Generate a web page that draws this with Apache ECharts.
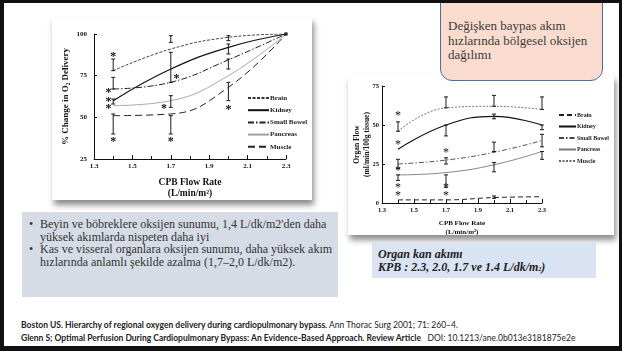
<!DOCTYPE html>
<html>
<head>
<meta charset="utf-8">
<script src="https://cdn.jsdelivr.net/npm/echarts@6.0.0/dist/echarts.min.js"></script>
<style>
  html, body { margin: 0; padding: 0; background: #fff; }
  #slide { position: relative; width: 622px; height: 351px; overflow: hidden; background: #fff; font-family: 'Liberation Serif', serif; }
  .frame { position: absolute; left: 0; top: 0; width: 622px; height: 351px; box-sizing: border-box; border: solid #111; border-width: 3px 3px 5px 4px; z-index: 10; }
  .img { position: absolute; background: #fff; box-shadow: 2px 5px 6px rgba(0,0,0,0.45); }
  #left { left: 52px; top: 17px; width: 260px; height: 183px; }
  #right { left: 348px; top: 75px; width: 266px; height: 160px; }
  .note { position: absolute; left: 440px; top: -12px; width: 161px; height: 91px; border: 1px solid #4a6fa0; border-radius: 12px; background: #fadcce; z-index: 5; }
  .note div { position: absolute; left: 7px; top: 30px; font-size: 13px; line-height: 14.5px; color: #3b3b3b; white-space: nowrap; }
  .box1 { position: absolute; left: 22px; top: 212px; width: 316px; height: 85px; background: #d6dce5; font-size: 12px; line-height: 12.5px; color: #333; }
  .li { position: absolute; left: 18px; white-space: nowrap; }
  .li::before { content: '\2022'; position: absolute; left: -11px; }
  .box2 { position: absolute; left: 372px; top: 243px; width: 224px; height: 35px; background: #dae3f3; font-size: 12px; line-height: 13px; color: #222; font-weight: bold; font-style: italic; }
  .box2 div { position: absolute; left: 6px; top: 5px; white-space: nowrap; }
  .ref { position: absolute; left: 21px; font-family: Lato, sans-serif; font-size: 8.5px; line-height: 10px; color: #222; white-space: nowrap; }
</style>
</head>
<body>
<div id="slide">
  <div class="img" id="left"></div>
  <div class="img" id="right"></div>
  <div class="note"><div>Değişken baypas akım<br>hızlarında bölgesel oksijen<br>dağılımı</div></div>
  <div class="box1">
    <div class="li" style="top:6px">Beyin ve böbreklere oksijen sunumu, 1,4 L/dk/m2'den daha<br>yüksek akımlarda nispeten daha iyi</div>
    <div class="li" style="top:31px">Kas ve visseral organlara oksijen sunumu, daha yüksek akım<br>hızlarında anlamlı şekilde azalma (1,7–2,0 L/dk/m2).</div>
  </div>
  <div class="box2"><div>Organ kan akımı<br>KPB : 2.3, 2.0, 1.7 ve 1.4 L/dk/m<span style="font-size:6px">2</span>)</div></div>
  <div class="ref" style="top:320px"><b>Boston US. Hierarchy of regional oxygen delivery during cardiopulmonary bypass.</b> Ann Thorac Surg 2001; 71: 260–4.</div>
  <div class="ref" style="top:333px"><b>Glenn S; Optimal Perfusion During Cardiopulmonary Bypass: An Evidence-Based Approach. Review Article</b>&nbsp;&nbsp; DOI: 10.1213/ane.0b013e3181875e2e</div>
  <div class="frame"></div>
</div>
<script>
const flowRate = [1.4, 1.7, 2.0, 2.3];
const flowTicks = [1.3, 1.5, 1.7, 1.9, 2.1, 2.3];
const organs = ['Brain', 'Kidney', 'Small Bowel', 'Pancreas', 'Muscle'];

// left figure: % change in O2 delivery
const deliveryTicks = [25, 50, 75, 100];
const deliveryBrain = [78, 91, 98, 100];
const deliveryKidney = [60, 79, 92, 100];
const deliveryBowel = [67, 71, 84.5, 100];
const deliveryPancreas = [57, 60, 75, 100];
const deliveryMuscle = [51, 52, 68, 100];
// [flow, low, high]
const deliveryBars = [
  [1.4, 78, 85], [1.4, 67, 74], [1.4, 58, 61], [1.4, 40, 52],
  [1.7, 95, 99], [1.7, 71, 89], [1.7, 56, 63], [1.7, 40, 51],
  [2.0, 96, 99], [2.0, 88, 94], [2.0, 79, 85], [2.0, 60, 71]
];
const deliveryStars = [
  [1.4, 88], [1.375, 66.5], [1.375, 61], [1.375, 57], [1.4, 37],
  [1.73, 75], [1.665, 57], [1.7, 37], [2.0, 56]
];
const deliveryEnd = [[2.3, 100]];

// right figure: organ flow
const organFlowTicks = [0, 25, 50, 75];
const flowMuscle = [46, 61, 62, 60];
const flowKidney = [34.5, 50, 55.5, 50];
const flowBowel = [25, 27.5, 32.5, 40];
const flowPancreas = [18, 19.5, 24.5, 33];
const flowBrain = [2, 2, 3.5, 4];
const flowBars = [
  [1.4, 46, 52], [1.7, 61, 68], [2.0, 62, 69], [2.3, 60, 68],
  [1.7, 43, 50], [2.0, 54, 57], [2.3, 47, 50],
  [1.4, 22, 28], [1.7, 25, 29], [2.0, 33, 39], [2.3, 36, 44],
  [1.4, 14.5, 18], [1.7, 10, 18], [2.0, 20, 26], [2.3, 28, 33],
  [2.0, 3, 4.5]
];
const flowStars = [
  [1.4, 58], [1.4, 39.5], [1.4, 22.5], [1.4, 11.5], [1.4, 6.5],
  [1.7, 34], [1.7, 11.5], [1.7, 6.5]
];

const serif = 'Liberation Serif';
const step = (t) => +(t[1] - t[0]).toFixed(2);

function lineSeries(name, values, style) {
  return {
    name: name, type: 'line', smooth: 0.45, symbol: 'none', z: 2,
    color: style.color,
    data: flowRate.map((x, i) => [x, values[i]]),
    lineStyle: style
  };
}

function barSeries(data, cap) {
  return {
    type: 'custom', data: data, silent: true, z: 3,
    encode: { x: 0, y: [1, 2] },
    renderItem: function (params, api) {
      const x = api.value(0);
      const lo = api.coord([x, api.value(1)]);
      const hi = api.coord([x, api.value(2)]);
      const st = { stroke: '#1a1a1a', lineWidth: 1 };
      return {
        type: 'group', children: [
          { type: 'line', shape: { x1: lo[0], y1: lo[1], x2: hi[0], y2: hi[1] }, style: st },
          { type: 'line', shape: { x1: lo[0] - cap, y1: lo[1], x2: lo[0] + cap, y2: lo[1] }, style: st },
          { type: 'line', shape: { x1: hi[0] - cap, y1: hi[1], x2: hi[0] + cap, y2: hi[1] }, style: st }
        ]
      };
    }
  };
}

function starSeries(data, font) {
  return {
    type: 'custom', data: data, silent: true, z: 4,
    encode: { x: 0, y: 1 },
    renderItem: function (params, api) {
      const p = api.coord([api.value(0), api.value(1)]);
      return {
        type: 'text', x: p[0], y: p[1] + 3,
        style: { text: '*', fill: '#111', font: font, align: 'center', verticalAlign: 'middle' }
      };
    }
  };
}

function axes(ticks, yTicks, o) {
  return {
    xAxis: {
      type: 'value', min: ticks[0], max: ticks[ticks.length - 1], interval: step(ticks),
      axisLine: { lineStyle: { color: '#111', width: 1 } },
      axisTick: { inside: true, length: 4, lineStyle: { color: '#111' } },
      minorTick: { show: true, splitNumber: 2, length: 3, lineStyle: { color: '#111' } },
      splitLine: { show: false },
      axisLabel: { formatter: (v) => v.toFixed(1), margin: o.xMargin, color: '#111', fontFamily: serif, fontWeight: 'bold', fontSize: o.tickSize },
      name: o.xName, nameLocation: 'middle', nameGap: o.xGap, nameMoveOverlap: false,
      nameTextStyle: { fontFamily: serif, fontWeight: 'bold', fontSize: o.nameSize, lineHeight: o.nameLh, color: '#111' }
    },
    yAxis: {
      type: 'value', min: yTicks[0], max: yTicks[yTicks.length - 1], interval: step(yTicks),
      axisLine: { show: true, lineStyle: { color: '#111', width: 1 } },
      axisTick: { show: true, inside: true, length: 3, lineStyle: { color: '#111' } },
      splitLine: { show: false },
      axisLabel: { margin: o.yMargin, color: '#111', fontFamily: serif, fontWeight: 'bold', fontSize: o.tickSize },
      name: o.yName, nameLocation: 'middle', nameGap: o.yGap, nameMoveOverlap: false,
      nameTextStyle: { fontFamily: serif, fontWeight: 'bold', fontSize: o.yNameSize, lineHeight: o.yNameLh, color: '#111' }
    }
  };
}

function legendOf(left, top, w, gap, size) {
  return {
    data: organs, orient: 'vertical', left: left, top: top,
    itemWidth: w, itemHeight: 8, itemGap: gap,
    itemStyle: { opacity: 0 },
    textStyle: { fontFamily: serif, fontWeight: 'bold', fontSize: size, lineHeight: 8, color: '#222', padding: [0, 0, 0, -4] }
  };
}

// left chart
const leftChart = echarts.init(document.getElementById('left'), null, { renderer: 'canvas' });
const leftAxes = axes(flowTicks, deliveryTicks, {
  xMargin: 4, xGap: 18, yMargin: 7, yGap: 23, tickSize: 7, nameSize: 9.5, nameLh: 11, yNameSize: 9, yNameLh: 10.5,
  xName: 'CPB Flow Rate\n(L/min/m²)', yName: '% Change in O₂ Delivery'
});
leftChart.setOption({
  animation: false,
  grid: { left: 42, top: 17, width: 192, height: 125, outerBoundsMode: 'none' },
  xAxis: leftAxes.xAxis,
  yAxis: leftAxes.yAxis,
  legend: legendOf(190, 72, 21, 4.2, 7),
  series: [
    lineSeries('Brain', deliveryBrain, { color: '#333', width: 0.9, type: [3, 1.5] }),
    lineSeries('Kidney', deliveryKidney, { color: '#111', width: 1.2 }),
    lineSeries('Small Bowel', deliveryBowel, { color: '#222', width: 1, type: [6, 2, 1.5, 2] }),
    lineSeries('Pancreas', deliveryPancreas, { color: '#a0a0a0', width: 0.9 }),
    lineSeries('Muscle', deliveryMuscle, { color: '#222', width: 1, type: [7, 4] }),
    barSeries(deliveryBars, 2),
    starSeries(deliveryStars, 'bold 12px ' + serif),
    { type: 'scatter', data: deliveryEnd, symbolSize: 4, itemStyle: { color: '#111' }, silent: true }
  ]
});

// right chart
const rightChart = echarts.init(document.getElementById('right'), null, { renderer: 'canvas' });
const rightAxes = axes(flowTicks, organFlowTicks, {
  xMargin: 3.5, xGap: 15, yMargin: 3, yGap: 10, tickSize: 6.5, nameSize: 7, nameLh: 9.5, yNameSize: 7.5, yNameLh: 10,
  xName: 'CPB Flow Rate\n(L/min/m²)', yName: 'Organ Flow\n(ml/min/100g tissue)'
});
rightChart.setOption({
  animation: false,
  grid: { left: 34, top: 11, width: 160, height: 117, outerBoundsMode: 'none' },
  xAxis: rightAxes.xAxis,
  yAxis: rightAxes.yAxis,
  legend: legendOf(205, 31, 17, 3.5, 6),
  series: [
    lineSeries('Brain', flowBrain, { color: '#222', width: 1, type: [5, 3] }),
    lineSeries('Kidney', flowKidney, { color: '#111', width: 1.1 }),
    lineSeries('Small Bowel', flowBowel, { color: '#444', width: 0.9, type: [5, 2, 1.5, 2] }),
    lineSeries('Pancreas', flowPancreas, { color: '#777', width: 0.9 }),
    lineSeries('Muscle', flowMuscle, { color: '#666', width: 0.9, type: [2, 1.5] }),
    barSeries(flowBars, 2),
    starSeries(flowStars, '12px ' + serif)
  ]
});
</script>
</body>
</html>
